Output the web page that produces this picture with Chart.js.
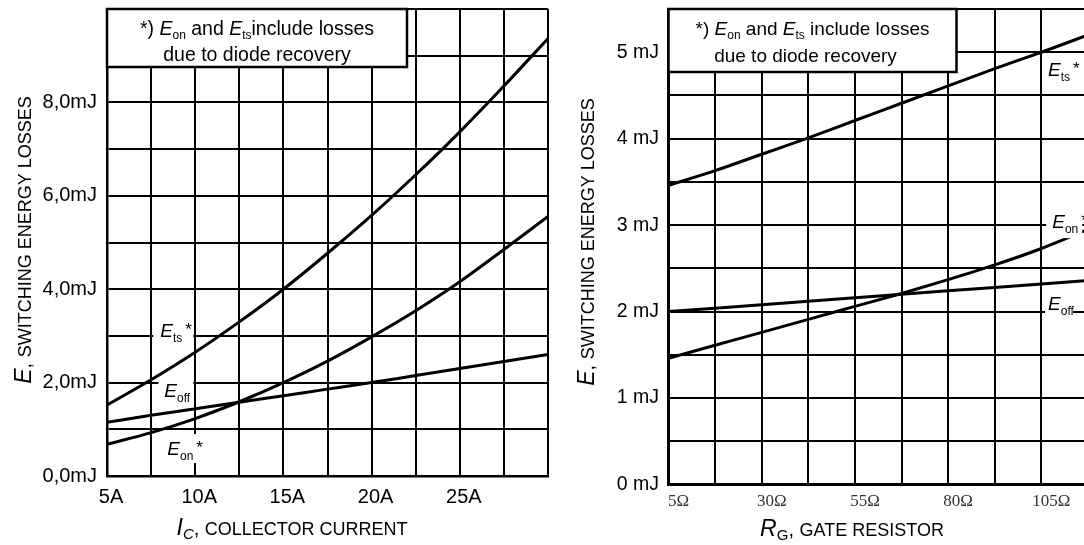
<!DOCTYPE html>
<html><head><meta charset="utf-8">
<script src="https://cdn.jsdelivr.net/npm/chart.js@4.4.1/dist/chart.umd.min.js"></script>
<style>
html,body{margin:0;padding:0;background:#fff;overflow:hidden;width:1084px;height:545px;}
#cL{position:absolute;left:0;top:0;}
#cR{position:absolute;left:560px;top:0;}
</style></head><body>
<canvas id="cL" width="560" height="545"></canvas>
<canvas id="cR" width="540" height="545"></canvas>
<script>
// ---------- data: left chart (E vs collector current) ----------
const icCurrentA = [5, 7.5, 10, 12.5, 15, 17.5, 20, 22.5, 25, 27.5, 30];
const icEtsMJ    = [1.52, 2.06, 2.65, 3.30, 4.00, 4.77, 5.58, 6.45, 7.37, 8.35, 9.37];
const icEonMJ    = [0.68, 0.93, 1.23, 1.59, 2.00, 2.46, 2.98, 3.54, 4.16, 4.85, 5.56];
const icEoffMJ   = [1.15, 1.30, 1.44, 1.58, 1.72, 1.86, 2.00, 2.15, 2.30, 2.45, 2.60];
const icTickValues = [5, 10, 15, 20, 25];
const icTickLabels = ['5A', '10A', '15A', '20A', '25A'];
const eTickValuesL = [0, 2, 4, 6, 8];
const eTickLabelsL = ['0,0mJ', '2,0mJ', '4,0mJ', '6,0mJ', '8,0mJ'];

// ---------- data: right chart (E vs gate resistor) ----------
const rgGateOhm = [5, 17.5, 30, 42.5, 55, 67.5, 80, 92.5, 105, 117.5];
const rgEtsMJ   = [3.46, 3.63, 3.82, 4.01, 4.21, 4.41, 4.61, 4.81, 5.00, 5.20];
const rgEonMJ   = [1.46, 1.61, 1.76, 1.91, 2.06, 2.21, 2.37, 2.54, 2.73, 2.95];
const rgEoffMJ  = [2.00, 2.04, 2.08, 2.12, 2.16, 2.20, 2.24, 2.28, 2.32, 2.36];
const rgTickValues = [5, 30, 55, 80, 105];
const rgTickLabels = ['5Ω', '30Ω', '55Ω', '80Ω', '105Ω'];
const eTickValuesR = [0, 1, 2, 3, 4, 5];
const eTickLabelsR = ['0 mJ', '1 mJ', '2 mJ', '3 mJ', '4 mJ', '5 mJ'];

const SANS = '"Liberation Sans", Arial, Helvetica, sans-serif';
const SERIF = '"Liberation Serif", "Times New Roman", serif';

function lookup(values, labels) {
  return v => { const i = values.findIndex(t => Math.abs(t - v) < 1e-6); return i >= 0 ? labels[i] : ''; };
}
function pts(xs, ys) { return xs.map((x, i) => ({x: x, y: ys[i]})); }
function ds(xs, ys) {
  return {data: pts(xs, ys), borderColor: '#000', borderWidth: 3, pointRadius: 0,
          cubicInterpolationMode: 'monotone', fill: false};
}
function rich(ctx, segs, x, y, align) {
  let w = 0;
  segs.forEach(s => { ctx.font = s.f; s.w = ctx.measureText(s.t).width; w += s.w + (s.gap || 0); });
  let cx = align === 'center' ? x - w / 2 : x;
  segs.forEach(s => { ctx.font = s.f; cx += (s.gap || 0); ctx.fillText(s.t, cx, y + (s.dy || 0)); cx += s.w; });
  return w;
}
const E = {t: 'E', f: 'italic 19px ' + SANS};
const sub = t => ({t: t, f: '12px ' + SANS, dy: 5});
const star = {t: '*', f: '17px ' + SANS, dy: -2, gap: 3};

const annotPlugin = {
  id: 'annot',
  afterDraw(chart, args, o) {
    const ctx = chart.ctx, a = chart.chartArea, xs = chart.scales.x, ys = chart.scales.y;
    ctx.save();
    ctx.textBaseline = 'alphabetic'; ctx.textAlign = 'left';
    o.labels.forEach(l => {
      const px = xs.getPixelForValue(l.x), py = ys.getPixelForValue(l.y);
      if (l.bg) { ctx.fillStyle = '#fff'; ctx.fillRect(px + l.bg[0], py + l.bg[1], l.bg[2], l.bg[3]); }
      ctx.fillStyle = '#000';
      rich(ctx, l.segs, px, py + (l.dy || 0), 'left');
    });
    const b = o.box;
    ctx.fillStyle = '#fff';
    ctx.fillRect(a.left, a.top, b.w, b.h);
    ctx.strokeStyle = '#000'; ctx.lineWidth = 2.5;
    ctx.strokeRect(a.left, a.top, b.w, b.h);
    ctx.fillStyle = '#000';
    b.lines.forEach(l => rich(ctx, l.segs, a.left + b.w / 2 + (l.dx || 0), a.top + l.y, 'center'));
    const t = o.xTitle; rich(ctx, t.segs, t.x, t.y, 'center');
    const yt = o.yTitle;
    ctx.translate(yt.x, yt.y); ctx.rotate(-Math.PI / 2);
    rich(ctx, yt.segs, 0, 0, 'center');
    ctx.restore();
  }
};

function noteLine1(size, gapWord) {
  const f = size + 'px ' + SANS, fi = 'italic ' + size + 'px ' + SANS, fs = '12px ' + SANS;
  return [{t: '*) ', f: f}, {t: 'E', f: fi}, {t: 'on', f: fs, dy: 4}, {t: ' and ', f: f},
          {t: 'E', f: fi}, {t: 'ts', f: fs, dy: 4}, {t: gapWord + 'include losses', f: f}];
}
function titleSegs(big, bigItalic, subTxt, subItalic, rest) {
  return [{t: big, f: (bigItalic ? 'italic ' : '') + '23px ' + SANS},
          ...(subTxt ? [{t: subTxt, f: (subItalic ? 'italic ' : '') + '15px ' + SANS, dy: 4}] : []),
          {t: ', ', f: '20px ' + SANS}, {t: rest, f: '18px ' + SANS}];
}

function baseOptions(cfg) {
  return {
    responsive: false, animation: false, devicePixelRatio: 1,
    layout: {padding: cfg.pad},
    plugins: {legend: {display: false}, tooltip: {enabled: false}, annot: cfg.annot},
    scales: {
      x: {type: 'linear', min: cfg.xmin, max: cfg.xmax,
          afterFit: s => { s.height = cfg.xh; s.paddingLeft = 0; s.paddingRight = 0; },
          grid: {color: '#000', lineWidth: 2, drawTicks: false},
          border: {display: true, color: '#000', width: 2.5},
          ticks: {stepSize: cfg.xstep, autoSkip: false, maxRotation: 0, minRotation: 0,
                  padding: cfg.xpad, labelOffset: cfg.xoff, color: cfg.xcolor,
                  font: cfg.xfont, callback: cfg.xcb}},
      y: {type: 'linear', min: cfg.ymin, max: cfg.ymax,
          afterFit: s => { s.width = cfg.yw; s.paddingTop = 0; s.paddingBottom = 0; },
          grid: {color: '#000', lineWidth: 2, drawTicks: false},
          border: {display: true, color: '#000', width: 2.5},
          ticks: {stepSize: cfg.ystep, autoSkip: false, padding: cfg.ypad, color: '#000',
                  font: {family: SANS, size: cfg.yfs}, callback: cfg.ycb}}
    }
  };
}

new Chart(document.getElementById('cL'), {
  type: 'line',
  data: {datasets: [ds(icCurrentA, icEtsMJ), ds(icCurrentA, icEonMJ), ds(icCurrentA, icEoffMJ)]},
  options: baseOptions({
    pad: {top: 9, right: 12, bottom: 0, left: 0},
    xmin: 5, xmax: 30, xstep: 2.5, xh: 69, xpad: 9, xoff: 4, xcolor: '#000',
    xfont: {family: SANS, size: 20}, xcb: lookup(icTickValues, icTickLabels),
    ymin: 0, ymax: 10, ystep: 1, yw: 107, ypad: 10, yfs: 20, ycb: lookup(eTickValuesL, eTickLabelsL),
    annot: {
      box: {w: 300, h: 58, lines: [
        {y: 26, segs: noteLine1(19.5, '')},
        {y: 52, segs: [{t: 'due to diode recovery', f: '19.5px ' + SANS}]}
      ]},
      labels: [
        {x: 8.02, y: 3, dy: 1.5, bg: [-7, -14, 40, 27], segs: [E, sub('ts'), star]},
        {x: 8.25, y: 2, dy: 14, bg: [-6, -5, 35, 30], segs: [E, sub('off')]},
        {x: 8.42, y: 0.5, dy: 2.5, bg: [-5, -18.6, 38, 29], segs: [E, sub('on'), star]}
      ],
      xTitle: {x: 292, y: 535, segs: titleSegs('I', true, 'C', true, 'COLLECTOR CURRENT')},
      yTitle: {x: 31, y: 240, segs: titleSegs('E', true, '', false, 'SWITCHING ENERGY LOSSES')}
    }
  }),
  plugins: [annotPlugin]
});

new Chart(document.getElementById('cR'), {
  type: 'line',
  data: {datasets: [ds(rgGateOhm, rgEtsMJ), ds(rgGateOhm, rgEonMJ), ds(rgGateOhm, rgEoffMJ)]},
  options: baseOptions({
    pad: {top: 9, right: 12, bottom: 0, left: 0},
    xmin: 5, xmax: 117.5, xstep: 12.5, xh: 60.5, xpad: 7, xoff: 10, xcolor: '#333',
    xfont: {family: SERIF, size: 17}, xcb: lookup(rgTickValues, rgTickLabels),
    ymin: 0, ymax: 5.5, ystep: 0.5, yw: 108.5, ypad: 9.5, yfs: 19.5, ycb: lookup(eTickValuesR, eTickLabelsR),
    annot: {
      box: {w: 288, h: 63, lines: [
        {y: 26, segs: noteLine1(19, ' ')},
        {y: 53, segs: [{t: 'due to diode recovery', f: '19px ' + SANS}], dx: -7}
      ]},
      labels: [
        {x: 106.8, y: 4.72, dy: 0, segs: [E, sub('ts'), star]},
        {x: 107.9, y: 3, dy: 3, bg: [-6, -13, 36, 26], segs: [E, sub('on'), star]},
        {x: 106.8, y: 2, dy: -1.5, bg: [-3, -14.5, 28, 21], segs: [E, sub('off')]}
      ],
      xTitle: {x: 292, y: 536, segs: titleSegs('R', true, 'G', false, 'GATE RESISTOR')},
      yTitle: {x: 34, y: 242, segs: titleSegs('E', true, '', false, 'SWITCHING ENERGY LOSSES')}
    }
  }),
  plugins: [annotPlugin]
});
</script>
</body></html>
